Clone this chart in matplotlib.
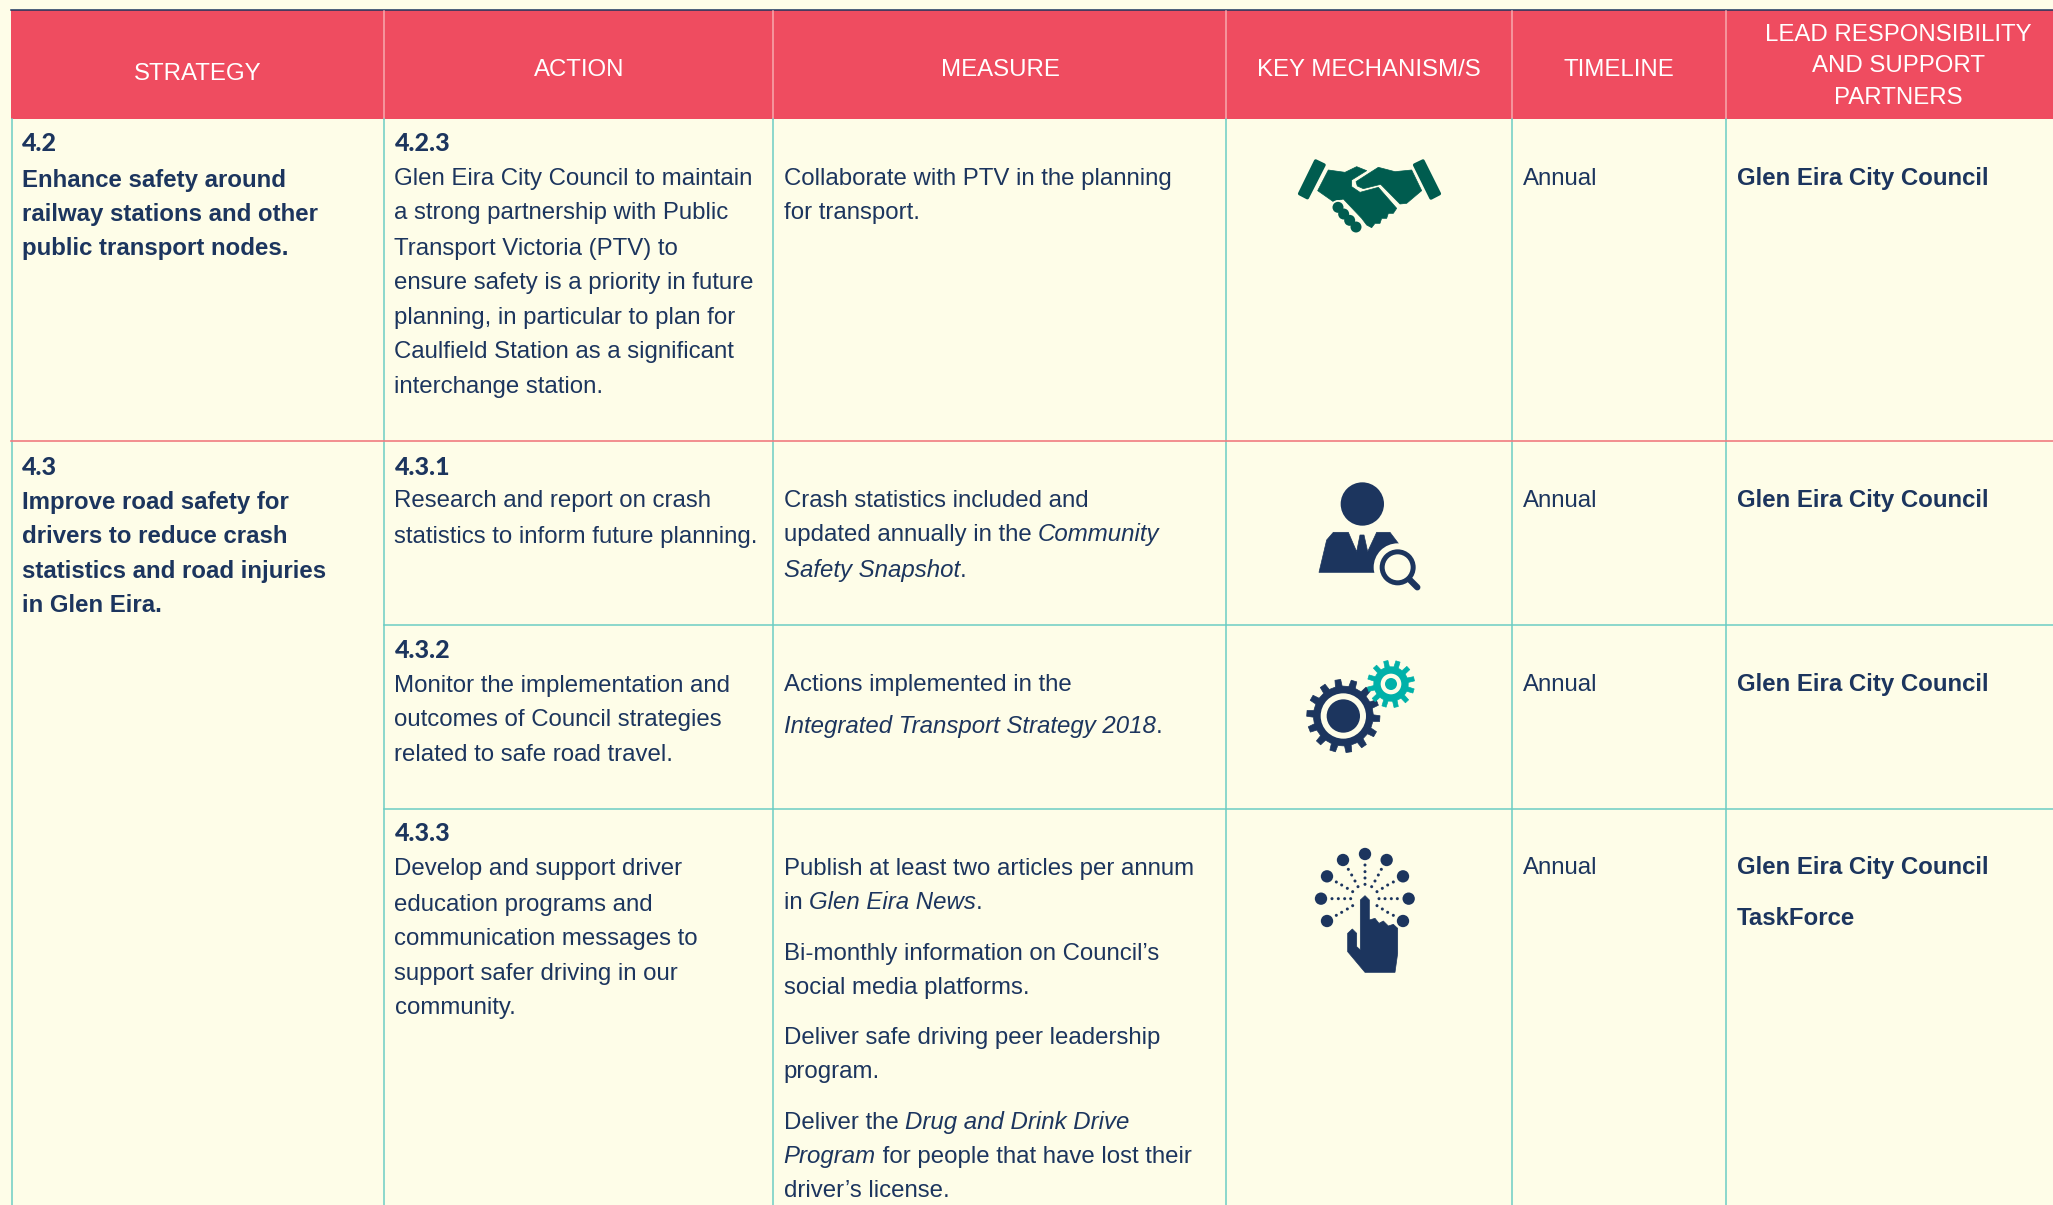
import numpy as np
import matplotlib
matplotlib.use('Agg')
import matplotlib.pyplot as plt
from matplotlib.patches import Polygon, Circle, Rectangle

S = 2053 / 1568  # row positions below were read on the shrunk picture
BG = '#FEFDE8'
RED = '#EF4C60'
NAVY = '#1C355E'
TEAL = '#6CCDC4'
GREEN = '#005C4F'
GEAR = '#00B1A9'

headers = ['STRATEGY', 'ACTION', 'MEASURE', 'KEY MECHANISM/S', 'TIMELINE']
lead_header = ['LEAD RESPONSIBILITY', 'AND SUPPORT', 'PARTNERS']

strategy_42 = ['Enhance safety around', 'railway stations and other', 'public transport nodes.']
strategy_43 = ['Improve road safety for', 'drivers to reduce crash', 'statistics and road injuries', 'in Glen Eira.']

action_423 = ['Glen Eira City Council to maintain', 'a strong partnership with Public',
              'Transport Victoria (PTV) to', 'ensure safety is a priority in future',
              'planning, in particular to plan for', 'Caulfield Station as a significant',
              'interchange station.']
action_431 = ['Research and report on crash', 'statistics to inform future planning.']
action_432 = ['Monitor the implementation and', 'outcomes of Council strategies', 'related to safe road travel.']
action_433 = ['Develop and support driver', 'education programs and', 'communication messages to',
              'support safer driving in our', 'community.']

# each measure line is a list of (text, italic) runs
measure_423 = [[('Collaborate with PTV in the planning', 0)], [('for transport.', 0)]]
measure_431 = [[('Crash statistics included and', 0)],
               [('updated annually in the ', 0), ('Community', 1)],
               [('Safety Snapshot', 1), ('.', 0)]]
measure_432 = [[('Actions implemented in the', 0)],
               [('Integrated Transport Strategy 2018', 1), ('.', 0)]]
measure_433 = [[('Publish at least two articles per annum', 0)],
               [('in ', 0), ('Glen Eira News', 1), ('.', 0)],
               [('Bi-monthly information on Council\u2019s', 0)],
               [('social media platforms.', 0)],
               [('Deliver safe driving peer leadership', 0)],
               [('program.', 0)],
               [('Deliver the ', 0), ('Drug and Drink Drive', 1)],
               [('Program', 1), (' for people that have lost their', 0)],
               [('driver\u2019s license.', 0)]]

timeline = 'Annual'
council = 'Glen Eira City Council'
taskforce = 'TaskForce'

col_lines = [11.5, 384, 773, 1226, 1512, 1726]
row_lines = [441, 625, 809]

fig = plt.figure(figsize=(20.53, 12.05), dpi=100, facecolor=BG)
ax = fig.add_axes([0, 0, 1, 1])
ax.set_xlim(0, 2053)
ax.set_ylim(1205, 0)
ax.axis('off')

FS = 17.28
plt.rcParams['font.family'] = ['Liberation Sans', 'DejaVu Sans']


def txt(x, yc, s, **kw):
    kw.setdefault('color', NAVY)
    kw.setdefault('fontsize', FS)
    return ax.text(x, yc * S + 8.5, s, va='baseline', **kw)


def run_width(s, style):
    r = fig.canvas.get_renderer()
    a = ax.text(0, 0, s + '|', fontsize=FS, style=style)
    b = ax.text(0, 0, '|', fontsize=FS, style=style)
    w = a.get_window_extent(r).width - b.get_window_extent(r).width
    a.remove()
    b.remove()
    return w


def runs(x, yc, line):
    for s, it in line:
        style = 'italic' if it else 'normal'
        txt(x, yc, s, style=style)
        x += run_width(s, style)


def number(x, yc, s):
    txt(x, yc + 1, s, family='Lato', fontweight='black', fontsize=18)


# table frame
ax.add_patch(Rectangle((11, 10), 2042, 109, color=RED, lw=0))
ax.plot([11, 2053], [10, 10], color=NAVY, lw=1.1)
for x in col_lines[1:]:
    ax.plot([x, x], [11, 119], color='#F7A9AE', lw=1.1)
for x in col_lines:
    ax.plot([x, x], [119, 1205], color=TEAL, lw=1.1)
ax.plot([11, 2053], [row_lines[0]] * 2, color='#F07C80', lw=1.2)
for y in row_lines[1:]:
    ax.plot([384, 2053], [y, y], color=TEAL, lw=1.1)

# headers
head_x = [198, 579, 1000, 1369, 1619]
head_y = [56.5, 53.5, 53.5, 53.5, 53.5]
for x, y, s in zip(head_x, head_y, headers):
    ax.text(x, y * S, s, color='white', fontsize=FS, ha='center', va='center')
for y, s in zip([26.5, 50.5, 74.5], lead_header):
    ax.text(1898, y * S, s, color='white', fontsize=FS, ha='center', va='center')

# strategy column
number(22, 108, '4.2')
for y, s in zip([136, 162, 188], strategy_42):
    txt(22, y, s, fontweight='bold')
number(22, 355, '4.3')
for y, s in zip([382, 408, 435, 461], strategy_43):
    txt(22, y, s, fontweight='bold')

# action column
for lab, yl, ys, lines in [('4.2.3', 108, [135, 161, 188, 214, 241, 267, 294], action_423),
                           ('4.3.1', 355, [381, 408], action_431),
                           ('4.3.2', 495, [522, 548, 575], action_432),
                           ('4.3.3', 635, [662, 689, 715, 742, 768], action_433)]:
    number(394.5, yl, lab)
    for y, s in zip(ys, lines):
        txt(394.5, y, s)

# measure column
for ys, lines in [([135, 161], measure_423),
                  ([381, 407, 434], measure_431),
                  ([521, 553], measure_432),
                  ([662, 688, 727, 753, 791, 817, 856, 882, 908], measure_433)]:
    for y, line in zip(ys, lines):
        runs(783.5, y, line)

# timeline and lead columns
for y in [135, 381, 521, 661]:
    txt(1523, y, timeline)
    txt(1737, y, council, fontweight='bold')
txt(1737, 700, taskforce, fontweight='bold')


# icons, outlines traced on 3x zoom crops
def icon(x0, y0):
    return lambda pts: [(x0 + p[0] / 3, y0 + p[1] / 3) for p in pts]


def poly(pts, color, lw=1.5):
    ax.add_patch(Polygon(pts, closed=True, fc=color, ec=color, lw=lw, joinstyle='round'))


def disc(f, c, r, color):
    ax.add_patch(Circle(f([c])[0], r / 3, fc=color, ec='none'))


# handshake
f = icon(1250, 130)
poly(f([(197, 93), (222, 105), (172, 203), (149, 191)]), GREEN, 2.5)
poly(f([(494, 105), (519, 93), (568, 191), (543, 204)]), GREEN, 2.5)
poly(f([(235, 120), (285, 127), (320, 110), (350, 122), (305, 150), (305, 170), (330, 187),
        (385, 172), (440, 235), (430, 250), (415, 250), (410, 265), (395, 265), (390, 280),
        (375, 280), (365, 293), (350, 285), (335, 265), (280, 207), (250, 215), (203, 182)]), GREEN, 0.5)
poly(f([(352, 133), (385, 112), (435, 125), (485, 120), (515, 182), (470, 220), (450, 222),
        (392, 163), (340, 176), (322, 168), (318, 155)]), GREEN, 0.5)
fingers = [(264, 232), (281, 252), (299, 271), (318, 291)]
for c in fingers:
    disc(f, c, 22, BG)
for c in fingers:
    disc(f, c, 16.5, GREEN)

# person with magnifier
f = icon(1290, 470)
disc(f, (217, 102), 65, NAVY)
poly(f([(87, 307), (110, 210), (130, 187), (175, 187), (200, 245), (210, 195), (222, 195),
        (233, 245), (260, 187), (300, 187), (325, 220), (325, 307)]), NAVY, 0.5)
disc(f, (323, 292), 72, BG)
disc(f, (323, 292), 54, NAVY)
disc(f, (323, 292), 39, BG)
(hx0, hy0), (hx1, hy1) = f([(360, 330), (382, 352)])
ax.plot([hx0, hx1], [hy0, hy1], color=NAVY, lw=4.5, solid_capstyle='round')


# gears
def gear(cx, cy, r_out, r_in, n, turn):
    a = np.linspace(0, 2 * np.pi, n * 4, endpoint=False)
    r = np.tile([r_in, r_out, r_out, r_in], n)
    a = a + np.tile([0.5, -0.2, 0.2, -0.5], n) * (2 * np.pi / (n * 4)) + np.radians(turn)
    return [(cx + q * np.cos(t), cy + q * np.sin(t)) for q, t in zip(r, a)]


f = icon(1280, 650)
poly(f(gear(190, 198, 110, 90, 14, -5.5)), NAVY, 0.5)
disc(f, (190, 198), 68, BG)
disc(f, (190, 198), 50, NAVY)
poly(f(gear(333, 102, 71, 52, 12, 6)), GEAR, 0.5)
disc(f, (333, 102), 31, BG)
disc(f, (333, 102), 18, GEAR)

# touch icon
f = icon(1290, 840)
for c in [(225, 42), (159, 60), (290, 60), (111, 109), (339, 109), (93, 176), (356, 176), (111, 243), (339, 243)]:
    disc(f, c, 18.5, NAVY)
dots = [(225, 75), (225, 95), (225, 114), (225, 133),
        (175, 88), (185, 105), (195, 123), (204, 140), (274, 88), (265, 105), (255, 123), (245, 140),
        (139, 126), (155, 135), (172, 145), (188, 155), (310, 126), (293, 135), (277, 145), (261, 155),
        (126, 176), (145, 176), (164, 176), (182, 176), (267, 176), (285, 176), (304, 176), (322, 176),
        (139, 226), (155, 217), (172, 207), (188, 197), (310, 226), (293, 217), (277, 207), (261, 197)]
for c in dots:
    disc(f, c, 4.5, NAVY)
poly(f([(211, 180), (225, 167), (238, 180), (238, 240), (255, 235), (267, 250), (280, 243),
        (295, 258), (310, 253), (323, 265), (323, 340), (315, 397), (225, 397), (173, 335),
        (173, 280), (187, 267), (200, 280), (200, 320), (211, 330)]), NAVY, 0.5)

fig.savefig('out.png', dpi=100, facecolor=BG)
